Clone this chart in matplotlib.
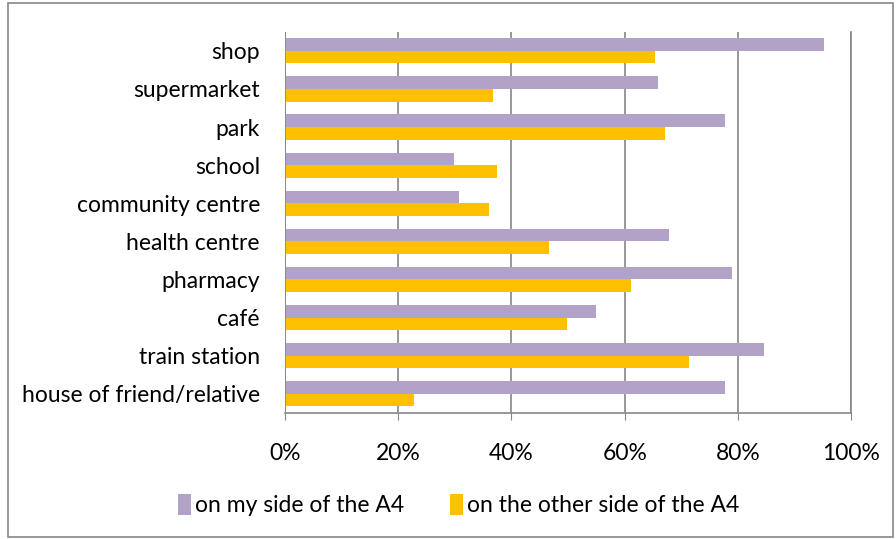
import matplotlib.pyplot as plt
import matplotlib.patches as mpatches
import numpy as np

categories = ["shop", "supermarket", "park", "school", "community centre",
              "health centre", "pharmacy", "café", "train station",
              "house of friend/relative"]
my_side = [95.2, 65.8, 77.7, 29.8, 30.8, 67.8, 79.0, 54.9, 84.6, 77.7]
other_side = [65.4, 36.8, 67.1, 37.4, 36.1, 46.7, 61.1, 49.9, 71.4, 22.8]
x_ticks = [0, 20, 40, 60, 80, 100]
x_labels = ["0%", "20%", "40%", "60%", "80%", "100%"]

PURPLE = "#B3A2C7"
ORANGE = "#FFC000"
GRID = "#868686"

plt.rcParams['font.family'] = ['Lato', 'DejaVu Sans']

fig = plt.figure(figsize=(8.96, 5.39), dpi=100)
ax = fig.add_axes([0.318, 0.234, 0.632, 0.707])

y = np.arange(len(categories))
h = 0.33
ax.barh(y - h / 2, my_side, height=h, color=PURPLE, label="on my side of the A4", zorder=3)
ax.barh(y + h / 2, other_side, height=h, color=ORANGE, label="on the other side of the A4", zorder=3)

ax.set_xlim(0, 100)
ax.set_ylim(len(categories) - 0.5, -0.5)
ax.set_xticks(x_ticks)
ax.set_xticklabels(x_labels, fontsize=16.5)
ax.set_yticks(y)
ax.set_yticklabels(categories, fontsize=16.5)
ax.tick_params(axis='y', length=0, pad=18)
ax.tick_params(axis='x', length=5, color=GRID, pad=17)
ax.grid(axis='x', color=GRID, linewidth=1.2, zorder=0)
for side in ["top", "left"]:
    ax.spines[side].set_visible(False)
for side in ["right", "bottom"]:
    ax.spines[side].set_color(GRID)
    ax.spines[side].set_linewidth(1.2)
ax.axvline(0, color=GRID, linewidth=1.2, zorder=4)

ax.legend(loc="center", bbox_to_anchor=(0.512, 0.063), bbox_transform=fig.transFigure,
          ncol=2, frameon=False, fontsize=16.5, handlelength=0.55, handleheight=1.0,
          handletextpad=0.2, columnspacing=2.0)

fig.patches.append(mpatches.Rectangle((0.009, 0.004), 0.988, 0.99, transform=fig.transFigure,
                                      fill=False, edgecolor=GRID, linewidth=1.2))

fig.savefig("out.png", dpi=100)
